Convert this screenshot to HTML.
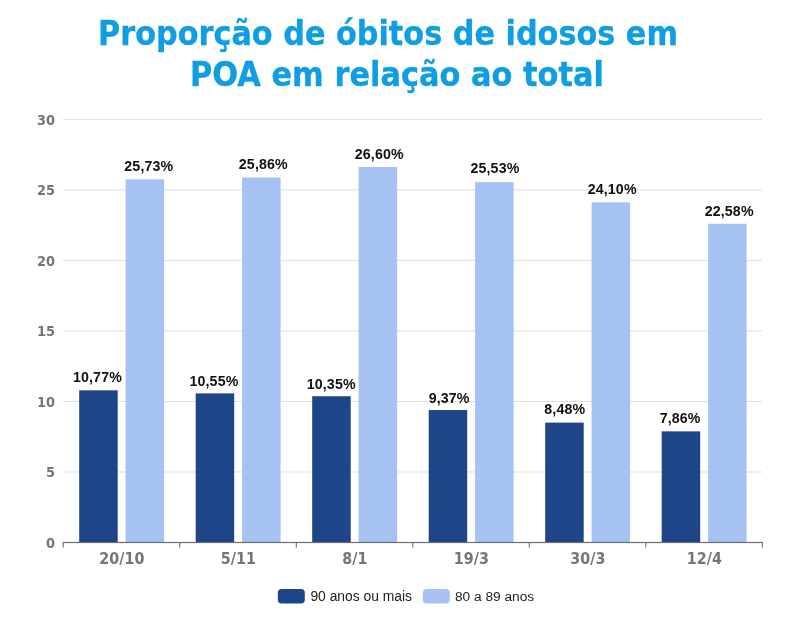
<!DOCTYPE html>
<html lang="pt-BR"><head><meta charset="utf-8"><title>Proporção de óbitos de idosos em POA em relação ao total</title>
<style>
html,body{margin:0;padding:0;background:#fff;}
body{width:800px;height:617px;overflow:hidden;}
svg{display:block;}
text{font-family:"Liberation Sans","DejaVu Sans",sans-serif;}
.title{font-family:"DejaVu Sans","Liberation Sans",sans-serif;font-weight:bold;font-size:33.6px;fill:#0f9de3;stroke:#0f9de3;stroke-width:0.35px;}
.ax{font-family:"DejaVu Sans Condensed","Liberation Sans",sans-serif;font-weight:bold;font-size:15px;fill:#74747c;}
.val{font-weight:bold;font-size:14.2px;fill:#111;letter-spacing:0.15px;}
.leg{font-size:13.7px;fill:#222;}
</style></head><body>
<svg width="800" height="617" viewBox="0 0 800 617">
<rect width="800" height="617" fill="#ffffff"/>
<text class="title" x="98" y="45" textLength="580" lengthAdjust="spacingAndGlyphs">Proporção de óbitos de idosos em</text>
<text class="title" x="190" y="86" textLength="414" lengthAdjust="spacingAndGlyphs">POA em relação ao total</text>
<rect x="63" y="118.90" width="699" height="1" fill="#dfdfe3"/>
<rect x="63" y="189.42" width="699" height="1" fill="#dfdfe3"/>
<rect x="63" y="259.93" width="699" height="1" fill="#dfdfe3"/>
<rect x="63" y="330.45" width="699" height="1" fill="#dfdfe3"/>
<rect x="63" y="400.97" width="699" height="1" fill="#dfdfe3"/>
<rect x="63" y="471.48" width="699" height="1" fill="#dfdfe3"/>
<text class="ax" x="55" y="124.70" text-anchor="end" style="font-size:14.4px">30</text>
<text class="ax" x="55" y="195.22" text-anchor="end" style="font-size:14.4px">25</text>
<text class="ax" x="55" y="265.73" text-anchor="end" style="font-size:14.4px">20</text>
<text class="ax" x="55" y="336.25" text-anchor="end" style="font-size:14.4px">15</text>
<text class="ax" x="55" y="406.77" text-anchor="end" style="font-size:14.4px">10</text>
<text class="ax" x="55" y="477.28" text-anchor="end" style="font-size:14.4px">5</text>
<text class="ax" x="55" y="547.80" text-anchor="end" style="font-size:14.4px">0</text>
<rect x="79.20" y="390.31" width="38.50" height="152.19" fill="#1d4587"/>
<rect x="125.60" y="179.32" width="38.50" height="363.18" fill="#a5c2f2"/>
<text class="val" x="97.45" y="382.11" text-anchor="middle">10,77%</text>
<text class="val" x="148.85" y="171.27" text-anchor="middle">25,73%</text>
<text class="ax" transform="translate(121.85,564) scale(1.06,1)" x="0" y="0" text-anchor="middle">20/10</text>
<rect x="195.70" y="393.41" width="38.50" height="149.09" fill="#1d4587"/>
<rect x="242.10" y="177.49" width="38.50" height="365.01" fill="#a5c2f2"/>
<text class="val" x="213.95" y="386.41" text-anchor="middle">10,55%</text>
<text class="val" x="263.35" y="168.89" text-anchor="middle">25,86%</text>
<text class="ax" transform="translate(238.35,564) scale(1.06,1)" x="0" y="0" text-anchor="middle">5/11</text>
<rect x="312.20" y="396.23" width="38.50" height="146.27" fill="#1d4587"/>
<rect x="358.60" y="167.05" width="38.50" height="375.45" fill="#a5c2f2"/>
<text class="val" x="331.20" y="388.78" text-anchor="middle">10,35%</text>
<text class="val" x="379.25" y="158.90" text-anchor="middle">26,60%</text>
<text class="ax" transform="translate(354.85,564) scale(1.06,1)" x="0" y="0" text-anchor="middle">8/1</text>
<rect x="428.70" y="410.05" width="38.50" height="132.45" fill="#1d4587"/>
<rect x="475.10" y="182.14" width="38.50" height="360.36" fill="#a5c2f2"/>
<text class="val" x="449.15" y="403.05" text-anchor="middle">9,37%</text>
<text class="val" x="494.95" y="172.79" text-anchor="middle">25,53%</text>
<text class="ax" transform="translate(471.35,564) scale(1.06,1)" x="0" y="0" text-anchor="middle">19/3</text>
<rect x="545.20" y="422.60" width="38.50" height="119.90" fill="#1d4587"/>
<rect x="591.60" y="202.31" width="38.50" height="340.19" fill="#a5c2f2"/>
<text class="val" x="564.75" y="414.40" text-anchor="middle">8,48%</text>
<text class="val" x="612.15" y="194.46" text-anchor="middle">24,10%</text>
<text class="ax" transform="translate(587.85,564) scale(1.06,1)" x="0" y="0" text-anchor="middle">30/3</text>
<rect x="661.70" y="431.35" width="38.50" height="111.15" fill="#1d4587"/>
<rect x="708.10" y="223.75" width="38.50" height="318.75" fill="#a5c2f2"/>
<text class="val" x="680.15" y="423.45" text-anchor="middle">7,86%</text>
<text class="val" x="729.15" y="216.30" text-anchor="middle">22,58%</text>
<text class="ax" transform="translate(704.35,564) scale(1.06,1)" x="0" y="0" text-anchor="middle">12/4</text>
<rect x="62.7" y="541.9" width="700.3" height="1.2" fill="#6c6d72"/>
<rect x="62.75" y="542" width="1.1" height="5.6" fill="#6e7076"/>
<rect x="179.25" y="542" width="1.1" height="5.6" fill="#6e7076"/>
<rect x="295.75" y="542" width="1.1" height="5.6" fill="#6e7076"/>
<rect x="412.25" y="542" width="1.1" height="5.6" fill="#6e7076"/>
<rect x="528.75" y="542" width="1.1" height="5.6" fill="#6e7076"/>
<rect x="645.25" y="542" width="1.1" height="5.6" fill="#6e7076"/>
<rect x="761.75" y="542" width="1.1" height="5.6" fill="#6e7076"/>
<rect x="277.8" y="589" width="27" height="14.6" rx="3.8" fill="#1d4587"/>
<text class="leg" x="310.4" y="600.8" style="font-size:13.85px">90 anos ou mais</text>
<rect x="422.8" y="589" width="27" height="14.6" rx="3.8" fill="#a5c2f2"/>
<text class="leg" x="455" y="600.8">80 a 89 anos</text>
</svg>
</body></html>
